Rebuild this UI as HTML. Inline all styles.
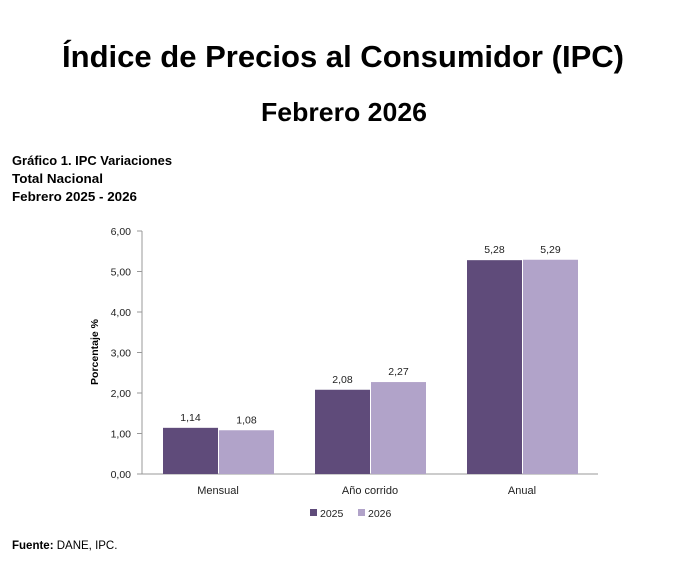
<!DOCTYPE html>
<html><head><meta charset="utf-8"><style>
html,body{margin:0;padding:0;background:#fff;}
svg{display:block;font-family:"Liberation Sans",sans-serif;}
</style></head><body>
<svg id="c" width="689" height="581" viewBox="0 0 689 581">
<text x="343" y="67" text-anchor="middle" font-size="31" font-weight="bold" textLength="562" lengthAdjust="spacingAndGlyphs">Índice de Precios al Consumidor (IPC)</text>
<text x="344" y="121" text-anchor="middle" font-size="26" font-weight="bold" textLength="166" lengthAdjust="spacingAndGlyphs">Febrero 2026</text>
<text x="12" y="165" font-size="12.5" font-weight="bold" textLength="160" lengthAdjust="spacingAndGlyphs">Gráfico 1. IPC Variaciones</text>
<text x="12" y="183" font-size="12.5" font-weight="bold" textLength="91" lengthAdjust="spacingAndGlyphs">Total Nacional</text>
<text x="12" y="201" font-size="12.5" font-weight="bold" textLength="125" lengthAdjust="spacingAndGlyphs">Febrero 2025 - 2026</text>
<text x="12" y="549" font-size="11.5"><tspan font-weight="bold">Fuente:</tspan> DANE, IPC.</text>
<g id="plot"></g>
</svg>
<script>
const categories=["Mensual","Año corrido","Anual"];
const series2025=[1.14,2.08,5.28];
const series2026=[1.08,2.27,5.29];
const seriesNames=["2025","2026"];
const yTicks=[0,1,2,3,4,5,6];
const NS="http://www.w3.org/2000/svg";
const g=document.getElementById("plot");
const x0=142,x1=598,yBase=474,yTop=231,yMax=6;
const y=v=>yBase-(v/yMax)*(yBase-yTop);
const gw=(x1-x0)/categories.length;
const bw=55;
const colors=["#5f4b7a","#b1a3c9"];
function el(t,a,txt){const e=document.createElementNS(NS,t);for(const k in a)e.setAttribute(k,a[k]);if(txt!==undefined)e.textContent=txt;g.appendChild(e);return e;}
yTicks.forEach(t=>{
 const e=el("text",{x:x0-11,y:y(t)+4,"text-anchor":"end","font-size":"10.5",fill:"#222"},t.toFixed(2).replace(".",","));
 
 
 const l=el("line",{x1:x0-5,x2:x0,y1:y(t),y2:y(t),stroke:"#999"});
 
 
});
const ya=el("line",{x1:x0,x2:x0,y1:yTop,y2:yBase,stroke:"#999"});


const xa=el("line",{x1:x0,x2:x1,y1:yBase,y2:yBase,stroke:"#999"});


const yt=el("text",{x:0,y:0,transform:"translate(98,352) rotate(-90)","text-anchor":"middle","font-size":"10.5","font-weight":"bold"},"Porcentaje %");


categories.forEach((c,i)=>{
 const cx=x0+gw*(i+0.5);
 [series2025[i],series2026[i]].forEach((v,j)=>{
  const bx=j===0?cx-bw:cx+1;
  const r=el("rect",{x:bx,y:y(v),width:bw,height:yBase-y(v),fill:colors[j]});
  
  
  const t=el("text",{x:bx+bw/2,y:y(v)-7,"text-anchor":"middle","font-size":"10.5",fill:"#222"},v.toFixed(2).replace(".",","));
  
  
 });
 const l=el("text",{x:cx,y:yBase+20,"text-anchor":"middle","font-size":"11",fill:"#222"},c);
 
 
});
seriesNames.forEach((n,j)=>{
 const lx=310+j*48;
 const s=el("rect",{x:lx,y:509,width:7,height:7,fill:colors[j]});
 
 
 const t=el("text",{x:lx+10,y:517,"font-size":"10.5",fill:"#222"},n);
 
 
});
</script>
</body></html>
